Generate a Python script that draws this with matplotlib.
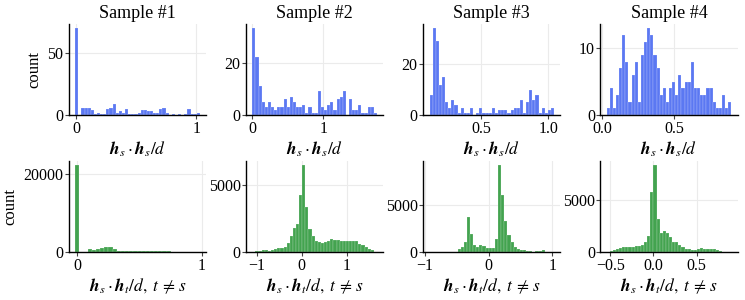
import numpy as np
import matplotlib
matplotlib.use("Agg")
import matplotlib.pyplot as plt
from matplotlib.ticker import MaxNLocator

plt.rcParams['font.family'] = ['Liberation Serif', 'DejaVu Serif']
plt.rcParams['mathtext.fontset'] = 'stix'

titles = ['Sample #1', 'Sample #2', 'Sample #3', 'Sample #4']

# bin ranges (lo, hi) and counts per bin
self_ranges = [(-0.0055, 1.03), (0.004, 1.755), (0.118, 1.044), (0.03, 0.896)]
self_counts = [
    [70, 0, 6, 6, 6, 4, 1, 2, 1, 1, 5, 6, 9, 2, 3, 2, 5, 1, 1, 1,
     2, 4, 4, 3, 3, 2, 2, 5, 6, 2, 0, 1, 0, 1, 0, 1, 5, 1, 1, 2],
    [33, 22, 11, 5, 3, 5, 3, 2, 3, 3, 6, 3, 7, 5, 3, 3, 4, 1, 3, 1,
     1, 9, 3, 2, 4, 5, 2, 6, 7, 9, 0, 6, 2, 2, 4, 1, 1, 3, 3, 1],
    [8, 34, 29, 12, 15, 5, 3, 6, 4, 1, 3, 1, 1, 3, 0, 1, 3, 1, 1, 1,
     3, 1, 2, 2, 2, 1, 2, 3, 3, 6, 1, 5, 10, 6, 8, 1, 3, 1, 2, 3],
    [1, 4, 1, 3, 7, 12, 8, 2, 6, 8, 2, 9, 11, 13, 12, 9, 7, 3, 4, 2,
     4, 5, 3, 6, 4, 5, 5, 8, 4, 4, 3, 3, 4, 4, 2, 1, 1, 3, 1, 2],
]

cross_ranges = [(-0.017, 0.983), (-1.1, 1.68), (-0.93, 1.03), (-0.54, 0.90)]
cross_counts = [
    [22300, 0, 0, 850, 700, 850, 1100, 1300, 1380, 950, 360, 350, 340, 350, 345,
     340, 350, 345, 340, 335, 340, 330, 320, 8, 5, 4, 3, 2, 2, 1],
    [30, 100, 100, 175, 175, 125, 150, 275, 300, 325, 420, 720, 1220, 1790, 2120,
     4230, 6450, 3390, 1720, 1220, 870, 800, 670, 770, 870, 970, 920, 920, 870, 870,
     820, 820, 820, 870, 620, 550, 420, 275, 150, 50],
    [5, 2, 3, 4, 6, 8, 10, 20, 70, 320, 600, 1100, 3730, 1950, 780, 530, 750, 675,
     460, 450, 420, 1380, 9200, 6100, 3270, 1850, 1140, 600, 390, 250, 250, 180,
     140, 70, 140, 180, 250, 30, 10, 5],
    [65, 130, 225, 320, 390, 485, 500, 485, 520, 560, 620, 720, 1030, 1580, 5780,
     8370, 3230, 1840, 2100, 1840, 1450, 1030, 970, 710, 485, 355, 290, 260, 260,
     290, 420, 355, 355, 320, 320, 225, 130, 65, 30, 30],
]

self_label = r'$\mathbfit{h}_s \cdot \mathbfit{h}_s / d$'
cross_label = r'$\mathbfit{h}_s \cdot \mathbfit{h}_t / d,\; t\, \neq\, s$'

blue = '#5b78f2'
green = '#43a34f'

fig, axes = plt.subplots(2, 4, figsize=(7.45, 3.0), dpi=100)
fig.subplots_adjust(left=0.0926, right=0.990, top=0.92, bottom=0.159,
                    wspace=0.292, hspace=0.504)


def draw(ax, rng, counts, color, xlabel):
    edges = np.linspace(rng[0], rng[1], len(counts) + 1)
    centers = (edges[:-1] + edges[1:]) / 2
    ax.hist(centers, bins=edges, weights=counts, color=color,
            edgecolor=(1, 1, 1, 0.45), linewidth=0.3)
    ax.set_axisbelow(True)
    ax.grid(True, color='#ebebeb', linewidth=0.8)
    for s in ['top', 'right']:
        ax.spines[s].set_visible(False)
    for s in ['left', 'bottom']:
        ax.spines[s].set_linewidth(1.0)
    ax.xaxis.set_major_locator(MaxNLocator(2, steps=[1, 2, 5, 10]))
    ax.yaxis.set_major_locator(MaxNLocator(2, steps=[1, 2, 5, 10]))
    ax.tick_params(labelsize=11.5, length=3, width=0.8, color='#444444', pad=1)
    ax.set_xlabel(xlabel, fontsize=12.5, labelpad=2)


for i in range(4):
    draw(axes[0, i], self_ranges[i], self_counts[i], blue, self_label)
    axes[0, i].set_title(titles[i], fontsize=13, pad=4)
    draw(axes[1, i], cross_ranges[i], cross_counts[i], green, cross_label)

axes[0, 0].set_ylabel('count', fontsize=12)
axes[1, 0].set_ylabel('count', fontsize=12)

fig.savefig('out.png', dpi=100)
